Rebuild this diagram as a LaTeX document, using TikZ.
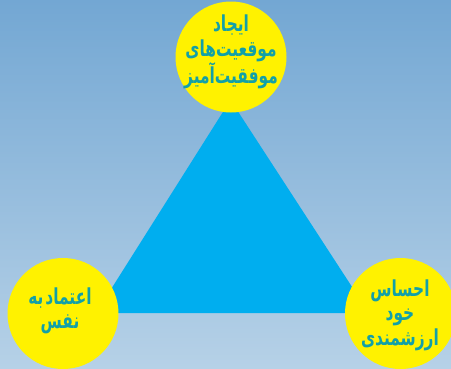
\documentclass[tikz,border=0pt]{standalone}
\usepackage{fontspec}
\TeXXeTstate=1
\newfontfamily\arabicfont[Script=Arabic,FakeStretch=0.7]{DejaVu Sans}
\definecolor{bgtop}{HTML}{73A7D3}
\definecolor{bgbot}{HTML}{B6D1E7}
\definecolor{tri}{HTML}{00AEEF}
\definecolor{ball}{HTML}{FFF200}
\definecolor{ink}{HTML}{12A0A8}
\begin{document}
\begin{tikzpicture}[x=1pt,y=-1pt,
  ballstyle/.style={circle,fill=ball,minimum size=111pt,inner sep=0pt},
  label/.style={text=ink,align=center,inner sep=0pt,font=\arabicfont\bfseries\fontsize{22}{24.5}\selectfont}]
\useasboundingbox (0,0) rectangle (451,368);
\clip (0,0) rectangle (451,368);
\shade[top color=bgtop,bottom color=bgbot] (0,0) rectangle (451,368);
\coordinate (apex) at (230.5,100);
\coordinate (bl) at (96,313);
\coordinate (br) at (369,313);
\fill[tri] (apex) -- (bl) -- (br) -- cycle;
\node[ballstyle] (top) at (231,57) {};
\node[ballstyle] (left) at (63,313.5) {};
\node[ballstyle] (right) at (400.5,313.5) {};
\node[label] (toptext) at (231,52) {\beginR ایجاد\endR\\\beginR موقعیت‌های\endR\\\beginR موفقیت‌آمیز\endR};
\node[label] (lefttext) at (60,311) {\beginR اعتماد\kern2pt به\endR\\\beginR نفس\endR};
\node[label] (righttext) at (400,315) {\beginR احساس\endR\\\beginR خود\endR\\\beginR ارزشمندی\endR};
\end{tikzpicture}
\end{document}
